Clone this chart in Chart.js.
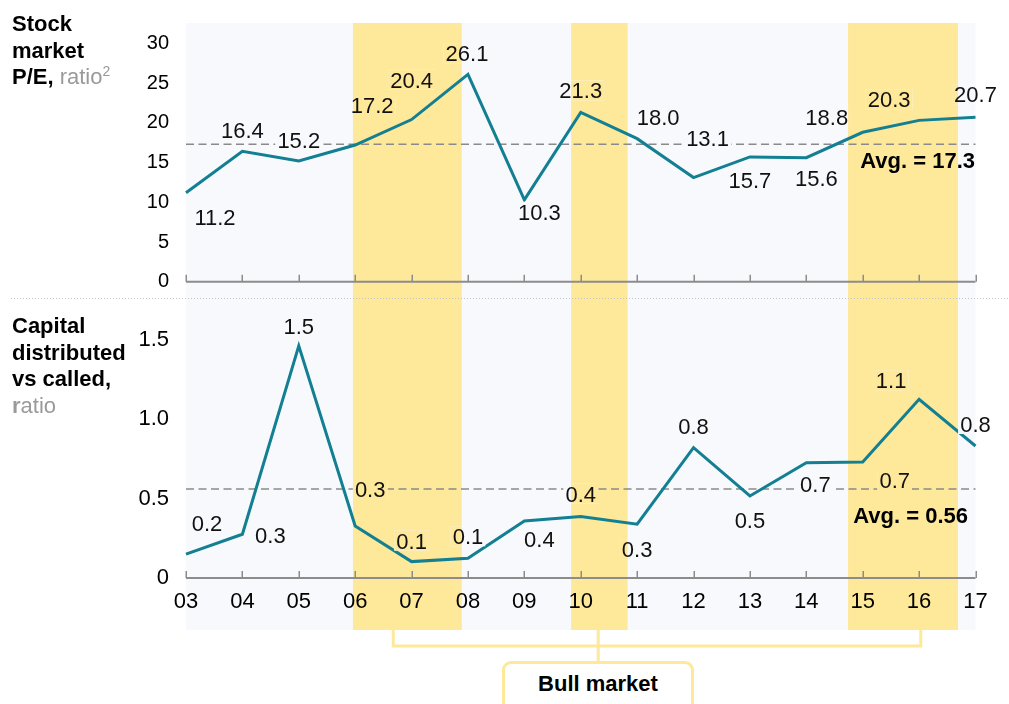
<!DOCTYPE html>
<html>
<head>
<meta charset="utf-8">
<script src="https://cdn.jsdelivr.net/npm/chart.js@4.4.1/dist/chart.umd.min.js"></script>
<style>
  html, body { margin: 0; padding: 0; background: #fff; overflow: hidden; }
  #wrap { position: relative; width: 1009px; height: 704px; overflow: hidden;
          font-family: 'Liberation Sans', Arial, sans-serif; color: #000; }
  #chart { position: absolute; left: 0; top: 0; }
  .title { position: absolute; left: 12px; font-size: 22px; line-height: 26.6px; font-weight: bold; }
  .title .unit { font-weight: normal; color: #9a9a9a; }
  .title .unit b { font-weight: bold; }
  .title sup { font-size: 14px; line-height: 0; vertical-align: 8px; }
  #bull { position: absolute; left: 502px; top: 661px; width: 192px; height: 80px; box-sizing: border-box;
          border: 3px solid #fee89a; border-radius: 9px; background: #fff;
          text-align: center; font-weight: bold; font-size: 22px; line-height: 40px; }
</style>
</head>
<body>
<div id="wrap">
  <canvas id="chart" width="1009" height="704"></canvas>
  <div class="title" style="top:11px">Stock<br>market<br>P/E, <span class="unit">ratio<sup>2</sup></span></div>
  <div class="title" style="top:313px">Capital<br>distributed<br>vs called,<br><span class="unit"><b>r</b>atio</span></div>
  <div id="bull">Bull market</div>
</div>
<script>
// ---- dati ----
const YEARS = ['03', '04', '05', '06', '07', '08', '09', '10', '11', '12', '13', '14', '15', '16', '17'];
const PE_VALUES = [11.2, 16.4, 15.2, 17.2, 20.4, 26.1, 10.3, 21.3, 18.0, 13.1, 15.7, 15.6, 18.8, 20.3, 20.7];
const PE_LABELS = PE_VALUES.map(v => v.toFixed(1));
const CAP_VALUES = [0.15, 0.275, 1.46, 0.327, 0.103, 0.124, 0.358, 0.386, 0.338, 0.82, 0.516, 0.725, 0.73, 1.124, 0.83];
const CAP_LABELS = ['0.2', '0.3', '1.5', '0.3', '0.1', '0.1', '0.4', '0.4', '0.3', '0.8', '0.5', '0.7', '0.7', '1.1', '0.8'];
const PE_AVG = 17.3;
const CAP_AVG = 0.56;
const PE_TICKS = [0, 5, 10, 15, 20, 25, 30];
const CAP_TICKS = [0, 0.5, 1.0, 1.5];
// bull market periods, in category index units
const BULL_BANDS = [[2.96, 4.89], [6.83, 7.83], [11.74, 13.69]];

// ---- stile ----
const FONT = "'Liberation Sans', Arial, sans-serif";
const LINE_COLOR = '#127f92';
const BAND_COLOR = '#fee89a';
const BG_COLOR = '#f8f9fc';
const AXIS_COLOR = '#8c8c8c';
const BG_BOTTOM = 630;
// label offsets from their point [dx, dy]
const PE_OFFSETS = [[29, 24], [0, -21], [0, -21], [17, -40], [0, -40], [-1, -21], [15, 12], [0, -22],
                    [21, -22], [14, -40], [0, 23], [10, 20], [-36, -15], [-30, -21], [0, -23]];
const CAP_OFFSETS = [[21, -31], [28, 1], [0, -20], [15, -37], [0, -21], [0, -22], [15, 18], [0, -23],
                     [0, 25], [0, -22], [0, 24], [9, 21], [32, 18], [-28, -19], [0, -22]];

// toglie il padding automatico che Chart.js aggiunge per le etichette estreme
const noAutoPadding = s => { s.paddingTop = 0; s.paddingBottom = 0; s.paddingLeft = 0; s.paddingRight = 0; };

// rettangoli di sfondo (fondo + bande) ritagliati su una zona qualsiasi
function paintBackground(chart, x0, y0, w, h) {
    const {ctx, chartArea: a, scales: {x}} = chart;
    ctx.save();
    ctx.beginPath();
    ctx.rect(x0, y0, w, h);
    ctx.clip();
    ctx.fillStyle = '#fff';
    ctx.fillRect(x0, y0, w, h);
    ctx.fillStyle = BG_COLOR;
    ctx.fillRect(a.left, a.top, a.right - a.left, BG_BOTTOM - a.top);
    ctx.fillStyle = BAND_COLOR;
    BULL_BANDS.forEach(([s, e]) => {
        const b0 = x.getPixelForValue(s), b1 = x.getPixelForValue(e);
        ctx.fillRect(b0, a.top, b1 - b0, BG_BOTTOM - a.top);
    });
    ctx.restore();
}

const decor = {
    id: 'decor',
    beforeDraw(chart) {
        const {ctx} = chart;
        paintBackground(chart, 0, 0, chart.width, chart.height);
        // separatore punteggiato
        ctx.save();
        ctx.strokeStyle = '#c4c4c4';
        ctx.lineWidth = 1;
        ctx.setLineDash([1, 2]);
        ctx.beginPath();
        ctx.moveTo(11, 298.5);
        ctx.lineTo(1009, 298.5);
        ctx.stroke();
        ctx.restore();
    },
    beforeDatasetsDraw(chart) {
        const {ctx, chartArea: a, scales: {x, yPe, yCap}} = chart;
        ctx.save();
        // assi x dei due pannelli
        [yPe.getPixelForValue(0), yCap.getPixelForValue(0)].forEach(py => {
            ctx.strokeStyle = AXIS_COLOR;
            ctx.lineWidth = 2;
            ctx.beginPath();
            ctx.moveTo(a.left, py);
            ctx.lineTo(a.right, py);
            ctx.stroke();
            ctx.lineWidth = 1.5;
            YEARS.forEach((_, i) => {
                const px = Math.round(x.getPixelForValue(i)) + 0.25;
                ctx.beginPath();
                ctx.moveTo(px, py);
                ctx.lineTo(px, py - 7);
                ctx.stroke();
            });
        });
        // medie tratteggiate
        ctx.strokeStyle = '#8a8a8a';
        ctx.lineWidth = 1.6;
        ctx.setLineDash([8, 4.5]);
        [yPe.getPixelForValue(PE_AVG), yCap.getPixelForValue(CAP_AVG)].forEach(py => {
            ctx.beginPath();
            ctx.moveTo(a.left, py);
            ctx.lineTo(a.right, py);
            ctx.stroke();
        });
        ctx.restore();
    },
    afterDatasetsDraw(chart) {
        const {ctx, scales: {x, yPe, yCap}} = chart;
        ctx.save();
        ctx.font = '22px ' + FONT;
        ctx.textAlign = 'center';
        ctx.textBaseline = 'alphabetic';
        const drawLabels = (meta, labels, offsets) => {
            meta.data.forEach((pt, i) => {
                const cx = pt.x + offsets[i][0], cy = pt.y + offsets[i][1];
                const w = ctx.measureText(labels[i]).width + 4;
                paintBackground(chart, cx - w / 2, cy - 10, w, 20);
                ctx.fillStyle = '#111';
                ctx.fillText(labels[i], cx, cy + 8);
            });
        };
        drawLabels(chart.getDatasetMeta(0), PE_LABELS, PE_OFFSETS);
        drawLabels(chart.getDatasetMeta(1), CAP_LABELS, CAP_OFFSETS);

        // etichette delle medie
        ctx.font = 'bold 22px ' + FONT;
        ctx.textAlign = 'right';
        ctx.fillStyle = '#000';
        ctx.fillText('Avg. = ' + PE_AVG.toFixed(1), 975, yPe.getPixelForValue(PE_AVG) + 15.5 + 8);
        ctx.fillText('Avg. = ' + CAP_AVG.toFixed(2), 968, yCap.getPixelForValue(CAP_AVG) + 26 + 8);

        // parentesi "Bull market"
        const xl = x.getPixelForValue(3.675), xc = x.getPixelForValue(7.31), xr = x.getPixelForValue(13.03);
        ctx.strokeStyle = BAND_COLOR;
        ctx.lineWidth = 3;
        ctx.beginPath();
        ctx.moveTo(xl, BG_BOTTOM);
        ctx.lineTo(xl, 646);
        ctx.lineTo(xr, 646);
        ctx.lineTo(xr, BG_BOTTOM);
        ctx.moveTo(xc, BG_BOTTOM);
        ctx.lineTo(xc, 662);
        ctx.stroke();
        ctx.restore();
    }
};

const lineStyle = {
    borderColor: LINE_COLOR,
    borderWidth: 3,
    borderJoinStyle: 'miter',
    pointRadius: 0,
    tension: 0,
    fill: false,
    clip: false
};

new Chart(document.getElementById('chart'), {
    type: 'line',
    data: {
        labels: YEARS,
        datasets: [
            { ...lineStyle, data: PE_VALUES, yAxisID: 'yPe' },
            { ...lineStyle, data: CAP_VALUES, yAxisID: 'yCap' }
        ]
    },
    options: {
        responsive: false,
        animation: false,
        events: [],
        layout: { padding: { left: 0, right: 33.5, top: 23, bottom: 0 } },
        plugins: { legend: { display: false }, tooltip: { enabled: false } },
        scales: {
            x: {
                type: 'category',
                offset: false,
                grid: { display: false, drawTicks: false },
                border: { display: false },
                ticks: { font: { size: 22, family: FONT }, color: '#000', padding: 11, maxRotation: 0, autoSkip: false },
                afterFit: s => { s.height = 126; noAutoPadding(s); }
            },
            // pannello inferiore (listato prima: nello stack finisce in basso)
            yCap: {
                position: 'left',
                stack: 'panels',
                stackWeight: 288,
                min: 0,
                max: 1.811,
                afterBuildTicks: s => { s.ticks = CAP_TICKS.map(v => ({ value: v })); },
                grid: { display: false, drawTicks: false },
                border: { display: false },
                ticks: { font: { size: 22, family: FONT }, color: '#000', padding: 17, callback: v => v === 0 ? '0' : v.toFixed(1) },
                afterFit: s => { s.width = 186; noAutoPadding(s); }
            },
            // pannello superiore
            yPe: {
                position: 'left',
                stack: 'panels',
                stackWeight: 267,
                min: -1.04,
                max: 32.55,
                afterBuildTicks: s => { s.ticks = PE_TICKS.map(v => ({ value: v })); },
                grid: { display: false, drawTicks: false },
                border: { display: false },
                ticks: { font: { size: 20, family: FONT }, color: '#000', padding: 17, callback: v => String(v) },
                afterFit: s => { s.width = 186; noAutoPadding(s); }
            }
        }
    },
    plugins: [decor]
});
</script>
</body>
</html>
